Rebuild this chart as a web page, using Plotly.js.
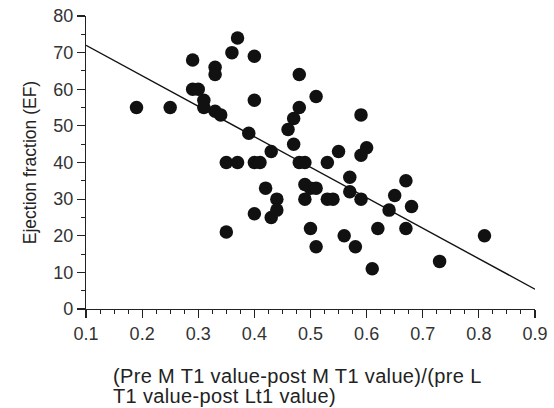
<!DOCTYPE html>
<html>
<head>
<meta charset="utf-8">
<script src="https://cdn.plot.ly/plotly-3.0.1.min.js"></script>
<style>html,body{margin:0;padding:0;background:#fff;}#chart{width:554px;height:408px;}
.annotation-text{letter-spacing:0.35px;}</style>
</head>
<body>
<div id="chart"></div>
<script>
// Scatter data
var ratioX = [0.19,0.25,0.29,0.33,0.33,0.37,0.36,0.40,0.29,0.30,0.31,0.31,0.33,0.34,0.40,0.39,0.43,0.35,0.37,0.40,0.41,
  0.48,0.51,0.48,0.47,0.46,0.47,0.48,0.49,0.59,0.60,0.59,0.55,0.53,0.42,0.44,0.44,0.43,0.40,0.35,
  0.49,0.50,0.51,0.49,0.50,0.51,0.53,0.54,0.57,0.57,0.59,0.67,0.65,0.68,0.64,0.56,0.58,0.62,0.67,0.61,0.73,0.81];
var efY = [55,55,68,66,64,74,70,69,60,60,57,55,54,53,57,48,43,40,40,40,40,
  64,58,55,52,49,45,40,40,53,44,42,43,40,33,30,27,25,26,21,
  34,33,33,30,22,17,30,30,36,32,30,35,31,28,27,20,17,22,22,11,13,20];
// Regression line
var fitSlope = -83.25;
var fitIntercept = 80.325;
var fitX = [0.1, 0.9];
var fitY = fitX.map(function(v){ return fitIntercept + fitSlope * v; });

var xTickVals = [0.1,0.2,0.3,0.4,0.5,0.6,0.7,0.8,0.9];
var xTickText = ['0.1','0.2','0.3','0.4','0.5','0.6','0.7','0.8','0.9'];
var yTickVals = [0,10,20,30,40,50,60,70,80];
var xTitleLines = ['(Pre M T1 value-post M T1 value)/(pre L', 'T1 value-post Lt1 value)'];

var FONT = 'Liberation Sans, Arial, Helvetica, sans-serif';

var traces = [
  {x: fitX, y: fitY, mode: 'lines', type: 'scatter', line: {color: '#111', width: 1.4}, hoverinfo: 'skip'},
  {x: ratioX, y: efY, mode: 'markers', type: 'scatter', marker: {color: '#111', size: 13.5, line: {width: 0}}}
];

var layout = {
  width: 554, height: 408,
  margin: {l: 86, r: 19, t: 16, b: 99},
  paper_bgcolor: '#fff', plot_bgcolor: '#fff',
  showlegend: false,
  font: {family: FONT, color: '#222', size: 17},
  xaxis: {
    range: [0.1, 0.9], tickvals: xTickVals, ticktext: xTickText,
    showline: true, linecolor: '#222', linewidth: 1.2, zeroline: false, showgrid: false,
    ticks: 'outside', ticklen: 8, tickwidth: 1.2, tickcolor: '#222',
    tickfont: {family: FONT, size: 18, color: '#333'},
    minor: {dtick: 0.025, tick0: 0.1, ticks: 'outside', ticklen: 4, tickwidth: 1, tickcolor: '#222', showgrid: false}
  },
  yaxis: {
    range: [0, 80], tickvals: yTickVals,
    showline: true, linecolor: '#222', linewidth: 1.2, zeroline: false, showgrid: false,
    ticks: 'outside', ticklen: 8, tickwidth: 1.2, tickcolor: '#222',
    tickfont: {family: FONT, size: 18, color: '#333'},
    minor: {dtick: 5, ticks: 'outside', ticklen: 4, tickwidth: 1, tickcolor: '#222', showgrid: false},
    title: {text: 'Ejection fraction (EF)', font: {family: FONT, size: 17.5, color: '#222'}, standoff: 12}
  },
  annotations: xTitleLines.map(function(t, i){
    return {
      xref: 'paper', yref: 'paper', x: 0.056, y: [-0.2289, -0.2953][i], xanchor: 'left', yanchor: 'middle', align: 'left',
      showarrow: false, text: t,
      font: {family: FONT, size: 20, color: '#222'}
    };
  })
};

Plotly.newPlot('chart', traces, layout, {displayModeBar: false, staticPlot: true});
</script>
</body>
</html>
